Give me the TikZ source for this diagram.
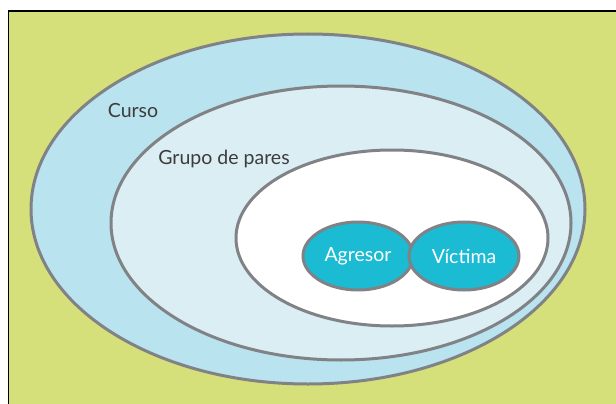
\documentclass[tikz,border=0pt]{standalone}
\usepackage{fontspec}
\setmainfont{Lato}
\usetikzlibrary{shapes.geometric}
\definecolor{fondo}{HTML}{D5E07B}
\definecolor{curso}{HTML}{B9E3EF}
\definecolor{grupo}{HTML}{DAEEF3}
\definecolor{nucleo}{HTML}{1ABBD3}
\definecolor{borde}{HTML}{808285}
\definecolor{texto}{HTML}{3C3C3C}
\tikzset{
  ring/.style={draw=borde,line width=3pt},
  burbuja/.style={ellipse,draw=borde,line width=3pt,fill=nucleo,text=white,
    minimum width=110pt,minimum height=68pt,inner sep=0pt,font=\fontsize{19.5}{22}\selectfont},
  etiqueta/.style={text=texto,inner sep=0pt,font=\fontsize{19.5}{22}\selectfont}
}
\begin{document}
\begin{tikzpicture}[x=1pt,y=-1pt]
        \useasboundingbox (0,0) rectangle (616,404);
        %% Fondo
        \fill[fondo] (8.5,11) rectangle (616,404);
        \draw[line width=1.5pt] (8.5,404) -- (8.5,11) -- (616,11);
        %% Anillos
        \draw[ring,fill=curso] (308,209) ellipse [x radius=277pt,y radius=175pt];
        \draw[ring,fill=grupo] (341,223) ellipse [x radius=230pt,y radius=137pt];
        \draw[ring,fill=white] (392,238) ellipse [x radius=156pt,y radius=88pt];
        %% Etiquetas
        \node[etiqueta] (curso) at (133,111) {Curso};
        \node[etiqueta] (grupo) at (224,159) {Grupo de pares};
        %% Agresor y victima
        \node[burbuja] (agresor) at (358,256) {Agresor};
        \node[burbuja] (victima) at (464,256) {Víctima};
\end{tikzpicture}
\end{document}
